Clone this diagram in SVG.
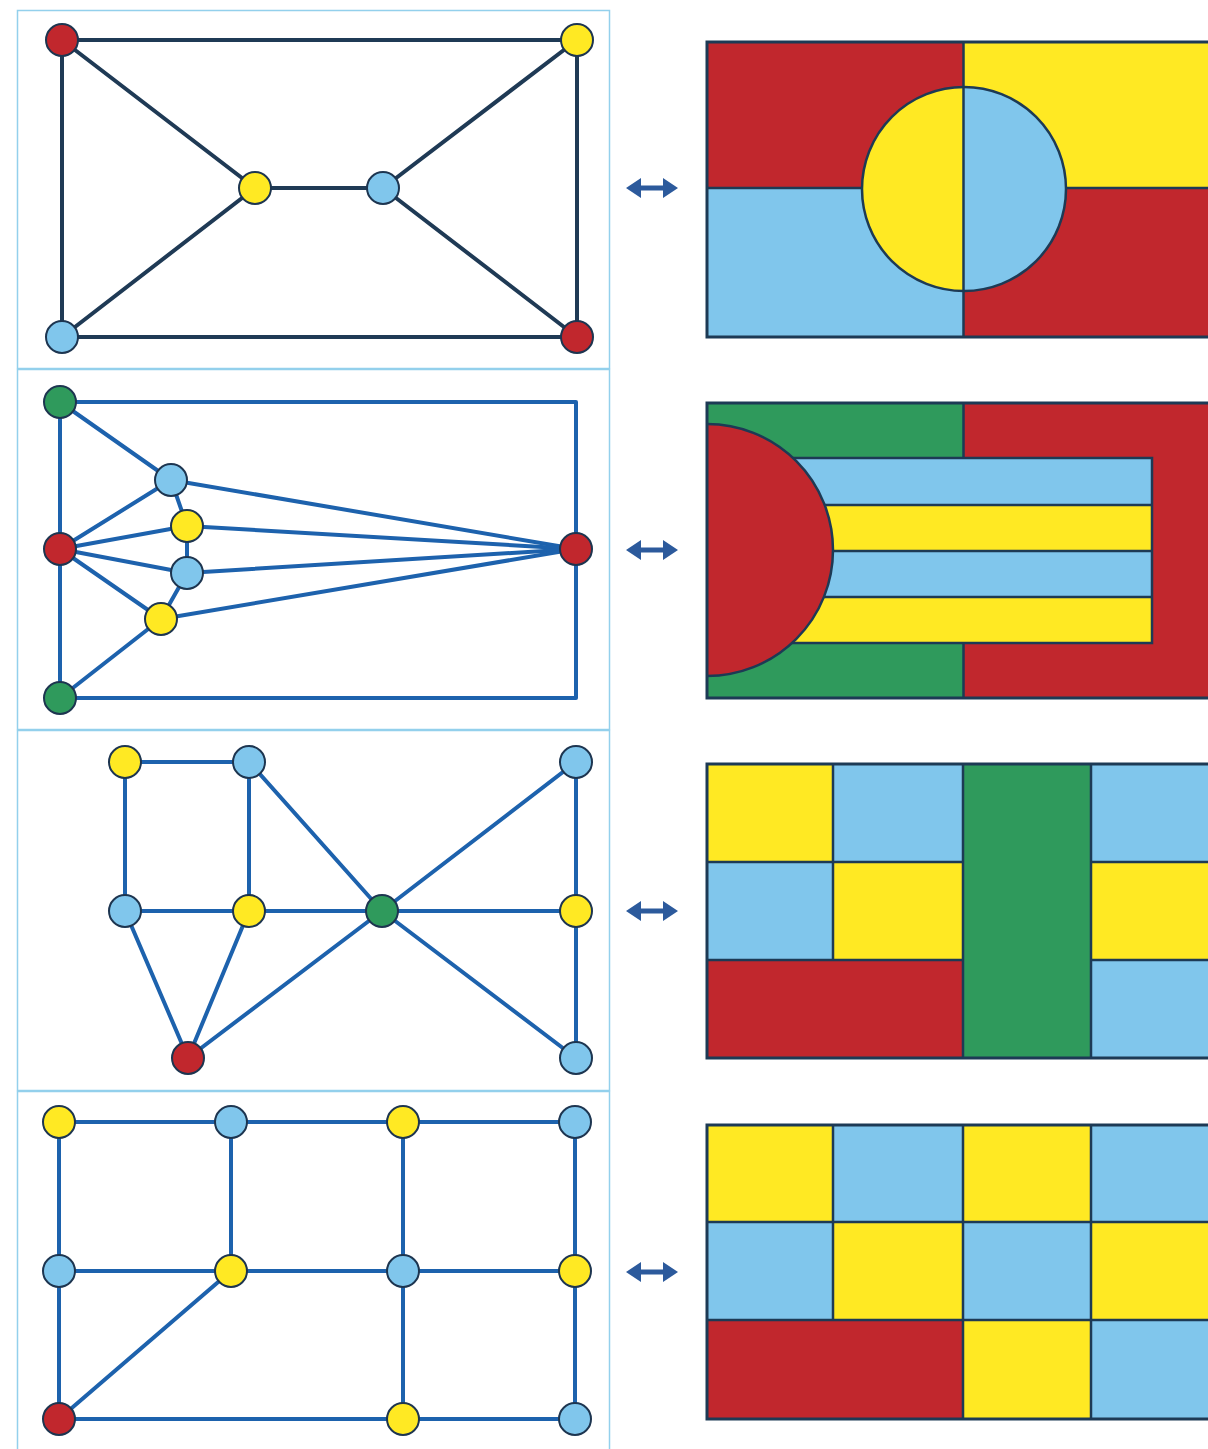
<svg xmlns="http://www.w3.org/2000/svg" width="1208" height="1449" viewBox="0 0 1208 1449">
<defs>
<style>
.frame{fill:none;stroke:#93d0ec;stroke-width:1.5}
.e1{stroke:#1f3a55;stroke-width:4;fill:none;stroke-linecap:round;stroke-linejoin:round}
.e{stroke:#1d62ad;stroke-width:4;fill:none;stroke-linecap:round;stroke-linejoin:round}
.n{stroke:#1d3550;stroke-width:2}
.R{fill:#c1272d}.Y{fill:#ffe923}.B{fill:#80c6ec}.G{fill:#2f9a5c}
.m{stroke:#1d3a55;stroke-width:3;fill:none}
.ln{stroke:#1d3a55;stroke-width:2.5;fill:none}
.arr{fill:#2c5a9c}
</style>
<path id="arrow" d="M0,0 L15,-10 L15,-2.5 L37,-2.5 L37,-10 L52,0 L37,10 L37,2.5 L15,2.5 L15,10 Z"/>
</defs>
<rect width="1208" height="1449" fill="#ffffff"/>
<g id="frames">
<rect class="frame" x="17.5" y="10.5" width="592" height="358"/>
<rect class="frame" x="17.5" y="369.5" width="592" height="360"/>
<rect class="frame" x="17.5" y="730.5" width="592" height="360"/>
<rect class="frame" x="17.5" y="1091.5" width="592" height="370"/>
</g>
<g id="connectors">
<g class="e1">
<line x1="62" y1="40" x2="577" y2="40"/>
<line x1="62" y1="40" x2="62" y2="337"/>
<line x1="577" y1="40" x2="577" y2="337"/>
<line x1="62" y1="337" x2="577" y2="337"/>
<line x1="62" y1="40" x2="255" y2="188"/>
<line x1="255" y1="188" x2="62" y2="337"/>
<line x1="255" y1="188" x2="383" y2="188"/>
<line x1="383" y1="188" x2="577" y2="40"/>
<line x1="383" y1="188" x2="577" y2="337"/>
</g>
<g class="e">
<polyline points="60,402 576,402 576,698 60,698"/>
<line x1="60" y1="402" x2="60" y2="698"/>
<line x1="60" y1="402" x2="171" y2="480"/>
<line x1="60" y1="549" x2="171" y2="480"/>
<line x1="60" y1="549" x2="187" y2="526"/>
<line x1="60" y1="549" x2="187" y2="573"/>
<line x1="60" y1="549" x2="161" y2="619"/>
<polyline points="171,480 187,526 187,573 161,619"/>
<line x1="161" y1="619" x2="60" y2="698"/>
<line x1="576" y1="549" x2="171" y2="480"/>
<line x1="576" y1="549" x2="187" y2="526"/>
<line x1="576" y1="549" x2="187" y2="573"/>
<line x1="576" y1="549" x2="161" y2="619"/>
</g>
<g class="e">
<line x1="125" y1="762" x2="249" y2="762"/>
<line x1="125" y1="762" x2="125" y2="911"/>
<line x1="249" y1="762" x2="249" y2="911"/>
<line x1="249" y1="762" x2="382" y2="911"/>
<line x1="576" y1="762" x2="382" y2="911"/>
<line x1="576" y1="762" x2="576" y2="1058"/>
<line x1="125" y1="911" x2="576" y2="911"/>
<line x1="125" y1="911" x2="188" y2="1058"/>
<line x1="249" y1="911" x2="188" y2="1058"/>
<line x1="188" y1="1058" x2="382" y2="911"/>
<line x1="382" y1="911" x2="576" y2="1058"/>
</g>
<g class="e">
<line x1="59" y1="1122" x2="575" y2="1122"/>
<line x1="59" y1="1271" x2="575" y2="1271"/>
<line x1="59" y1="1419" x2="575" y2="1419"/>
<line x1="59" y1="1122" x2="59" y2="1419"/>
<line x1="231" y1="1122" x2="231" y2="1271"/>
<line x1="403" y1="1122" x2="403" y2="1419"/>
<line x1="575" y1="1122" x2="575" y2="1419"/>
<line x1="59" y1="1419" x2="231" y2="1271"/>
</g>
<g id="arrows" class="arr">
<use href="#arrow" x="626" y="188"/>
<use href="#arrow" x="626" y="550"/>
<use href="#arrow" x="626" y="911"/>
<use href="#arrow" x="626" y="1272"/>
</g>
</g>
<g id="nodes-1">
<circle id="n1a" class="n R" cx="62" cy="40" r="16"/>
<circle id="n1b" class="n Y" cx="577" cy="40" r="16"/>
<circle id="n1c" class="n Y" cx="255" cy="188" r="16"/>
<circle id="n1d" class="n B" cx="383" cy="188" r="16"/>
<circle id="n1e" class="n B" cx="62" cy="337" r="16"/>
<circle id="n1f" class="n R" cx="577" cy="337" r="16"/>
</g>
<g id="nodes-2">
<circle id="n2a" class="n G" cx="60" cy="402" r="16"/>
<circle id="n2b" class="n R" cx="60" cy="549" r="16"/>
<circle id="n2c" class="n G" cx="60" cy="698" r="16"/>
<circle id="n2d" class="n B" cx="171" cy="480" r="16"/>
<circle id="n2e" class="n Y" cx="187" cy="526" r="16"/>
<circle id="n2f" class="n B" cx="187" cy="573" r="16"/>
<circle id="n2g" class="n Y" cx="161" cy="619" r="16"/>
<circle id="n2h" class="n R" cx="576" cy="549" r="16"/>
</g>
<g id="nodes-3">
<circle id="n3a" class="n Y" cx="125" cy="762" r="16"/>
<circle id="n3b" class="n B" cx="249" cy="762" r="16"/>
<circle id="n3c" class="n B" cx="576" cy="762" r="16"/>
<circle id="n3d" class="n B" cx="125" cy="911" r="16"/>
<circle id="n3e" class="n Y" cx="249" cy="911" r="16"/>
<circle id="n3f" class="n G" cx="382" cy="911" r="16"/>
<circle id="n3g" class="n Y" cx="576" cy="911" r="16"/>
<circle id="n3h" class="n R" cx="188" cy="1058" r="16"/>
<circle id="n3i" class="n B" cx="576" cy="1058" r="16"/>
</g>
<g id="nodes-4">
<circle id="n4a" class="n Y" cx="59" cy="1122" r="16"/>
<circle id="n4b" class="n B" cx="231" cy="1122" r="16"/>
<circle id="n4c" class="n Y" cx="403" cy="1122" r="16"/>
<circle id="n4d" class="n B" cx="575" cy="1122" r="16"/>
<circle id="n4e" class="n B" cx="59" cy="1271" r="16"/>
<circle id="n4f" class="n Y" cx="231" cy="1271" r="16"/>
<circle id="n4g" class="n B" cx="403" cy="1271" r="16"/>
<circle id="n4h" class="n Y" cx="575" cy="1271" r="16"/>
<circle id="n4i" class="n R" cx="59" cy="1419" r="16"/>
<circle id="n4j" class="n Y" cx="403" cy="1419" r="16"/>
<circle id="n4k" class="n B" cx="575" cy="1419" r="16"/>
</g>
<g id="map-1">
<rect class="R" x="707" y="42" width="256" height="146"/>
<rect class="Y" x="963" y="42" width="260" height="146"/>
<rect class="B" x="707" y="188" width="256" height="149"/>
<rect class="R" x="963" y="188" width="260" height="149"/>
<path class="Y" d="M964,87 A102,102 0 0 0 964,291 Z"/>
<path class="B" d="M964,87 A102,102 0 0 1 964,291 Z"/>
<circle class="ln" cx="964" cy="189" r="102"/>
<line class="ln" x1="963.5" y1="42" x2="963.5" y2="337"/>
<line class="ln" x1="707" y1="188" x2="862" y2="188"/>
<line class="ln" x1="1066" y1="188" x2="1223" y2="188"/>
<rect class="m" x="707" y="42" width="520" height="295"/>
</g>
<g id="map-2">
<rect class="G" x="707" y="403" width="256" height="295"/>
<rect class="R" x="963" y="403" width="260" height="295"/>
<line class="ln" x1="963.5" y1="403" x2="963.5" y2="698"/>
<rect class="B" x="780" y="458" width="372" height="47"/>
<rect class="Y" x="780" y="505" width="372" height="46"/>
<rect class="B" x="780" y="551" width="372" height="46"/>
<rect class="Y" x="780" y="597" width="372" height="46"/>
<g class="ln">
<rect x="780" y="458" width="372" height="185"/>
<line x1="780" y1="505" x2="1152" y2="505"/>
<line x1="780" y1="551" x2="1152" y2="551"/>
<line x1="780" y1="597" x2="1152" y2="597"/>
</g>
<path class="R" d="M707,424 A126,126 0 0 1 707,676 Z"/>
<path class="ln" d="M707,424 A126,126 0 0 1 707,676"/>
<rect class="m" x="707" y="403" width="520" height="295"/>
</g>
<g id="map-3">
<rect class="Y" x="707" y="764" width="126" height="98"/>
<rect class="B" x="833" y="764" width="130" height="98"/>
<rect class="G" x="963" y="764" width="128" height="294"/>
<rect class="B" x="1091" y="764" width="132" height="98"/>
<rect class="B" x="707" y="862" width="126" height="98"/>
<rect class="Y" x="833" y="862" width="130" height="98"/>
<rect class="Y" x="1091" y="862" width="132" height="98"/>
<rect class="R" x="707" y="960" width="256" height="98"/>
<rect class="B" x="1091" y="960" width="132" height="98"/>
<g class="ln">
<line x1="833" y1="764" x2="833" y2="960"/>
<line x1="963" y1="764" x2="963" y2="1058"/>
<line x1="1091" y1="764" x2="1091" y2="1058"/>
<line x1="707" y1="862" x2="963" y2="862"/>
<line x1="707" y1="960" x2="963" y2="960"/>
<line x1="1091" y1="862" x2="1223" y2="862"/>
<line x1="1091" y1="960" x2="1223" y2="960"/>
</g>
<rect class="m" x="707" y="764" width="520" height="294"/>
</g>
<g id="map-4">
<rect class="Y" x="707" y="1125" width="126" height="97"/>
<rect class="B" x="833" y="1125" width="130" height="97"/>
<rect class="Y" x="963" y="1125" width="128" height="97"/>
<rect class="B" x="1091" y="1125" width="132" height="97"/>
<rect class="B" x="707" y="1222" width="126" height="98"/>
<rect class="Y" x="833" y="1222" width="130" height="98"/>
<rect class="B" x="963" y="1222" width="128" height="98"/>
<rect class="Y" x="1091" y="1222" width="132" height="98"/>
<rect class="R" x="707" y="1320" width="256" height="99"/>
<rect class="Y" x="963" y="1320" width="128" height="99"/>
<rect class="B" x="1091" y="1320" width="132" height="99"/>
<g class="ln">
<line x1="833" y1="1125" x2="833" y2="1320"/>
<line x1="963" y1="1125" x2="963" y2="1419"/>
<line x1="1091" y1="1125" x2="1091" y2="1419"/>
<line x1="707" y1="1222" x2="1223" y2="1222"/>
<line x1="707" y1="1320" x2="1223" y2="1320"/>
</g>
<rect class="m" x="707" y="1125" width="520" height="294"/>
</g>
</svg>
